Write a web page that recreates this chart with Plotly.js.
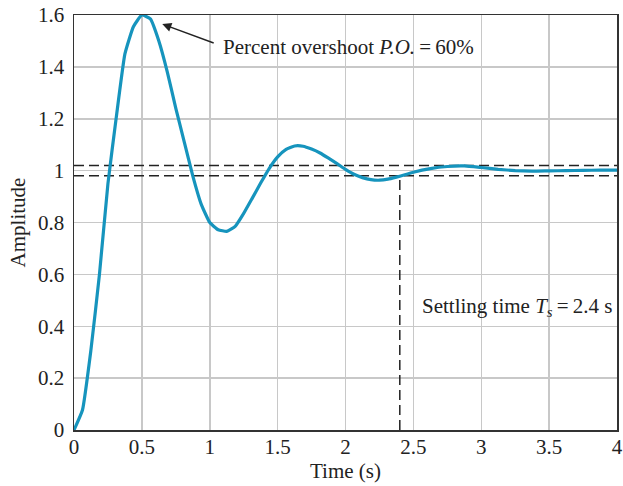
<!DOCTYPE html>
<html>
<head>
<meta charset="utf-8">
<script src="https://cdn.plot.ly/plotly-3.0.1.min.js"></script>
<style>html,body{margin:0;padding:0;background:#fff;}#chart{width:623px;height:486px;}</style>
</head>
<body>
<div id="chart"></div>
<script>
// Step response samples
var timeS = [0, 0.0625, 0.125, 0.1875, 0.25, 0.3125, 0.375, 0.4375, 0.5, 0.5625, 0.625, 0.6875, 0.75, 0.8125, 0.875, 0.9375, 1.0, 1.0625, 1.125, 1.1875, 1.25, 1.3125, 1.375, 1.4375, 1.5, 1.5625, 1.625, 1.6875, 1.75, 1.8125, 1.875, 1.9375, 2.0, 2.0625, 2.125, 2.1875, 2.25, 2.3125, 2.375, 2.4375, 2.5, 2.625, 2.75, 2.875, 3.0, 3.125, 3.25, 3.375, 3.5, 3.625, 3.75, 3.875, 4.0];
var amplitude = [0, 0.077, 0.31, 0.60, 0.95, 1.21, 1.45, 1.555, 1.60, 1.585, 1.50, 1.38, 1.24, 1.11, 0.98, 0.87, 0.80, 0.772, 0.766, 0.785, 0.835, 0.893, 0.952, 1.008, 1.053, 1.082, 1.095, 1.094, 1.083, 1.068, 1.048, 1.027, 1.005, 0.986, 0.973, 0.965, 0.963, 0.967, 0.975, 0.984, 0.994, 1.008, 1.016, 1.018, 1.012, 1.005, 1.0, 0.998, 0.999, 1.0, 1.001, 1.002, 1.002];
var bandLevels = [1.02, 0.98];
var settlingTime = [2.4];
var xRange = [0, 4];
var yRange = [0, 1.6];
var xTicks = [0, 0.5, 1, 1.5, 2, 2.5, 3, 3.5, 4];
var xTickText = ["0", "0.5", "1", "1.5", "2", "2.5", "3", "3.5", "4"];
var yTicks = [0, 0.2, 0.4, 0.6, 0.8, 1, 1.2, 1.4, 1.6];
var yTickText = ["0", "0.2", "0.4", "0.6", "0.8", "1", "1.2", "1.4", "1.6"];
var arrowHead = [0.65, 1.565];
var arrowTail = [1.04, 1.49];
var poText = "Percent overshoot <i>P.O.</i>\u2009=\u200960%";
var tsText = "Settling time <i>T</i><sub><i>s</i></sub>\u2009=\u20092.4 s";

var serif = "Liberation Serif, Times New Roman, serif";
var traces = [];
bandLevels.forEach(function (lv) {
  traces.push({x: xRange, y: [lv, lv], mode: "lines", line: {color: "#222", width: 1.5, dash: "10px,5px"}, hoverinfo: "skip", showlegend: false});
});
traces.push({x: [settlingTime[0], settlingTime[0]], y: [0, bandLevels[1]], mode: "lines", line: {color: "#222", width: 1.5, dash: "10px,5px"}, hoverinfo: "skip", showlegend: false});
traces.push({x: timeS, y: amplitude, mode: "lines", line: {color: "#1694bd", width: 3.2, shape: "spline", smoothing: 0.4}, showlegend: false});

var layout = {
  width: 623, height: 486,
  margin: {l: 74, r: 6, t: 15, b: 56},
  paper_bgcolor: "#fff", plot_bgcolor: "#fff",
  font: {family: serif, size: 21, color: "#222"},
  xaxis: {range: xRange, tickvals: xTicks, ticktext: xTickText, showgrid: true, gridcolor: "#c8c8c8", gridwidth: 1.5,
    zeroline: false, showline: true, linecolor: "#333", linewidth: 1.5, mirror: true, ticks: "", ticklabelstandoff: -3,
    tickfont: {family: serif, size: 21, color: "#222"},
    title: {text: "Time (s)", font: {family: serif, size: 21, color: "#222"}, standoff: 2}},
  yaxis: {range: yRange, tickvals: yTicks, ticktext: yTickText, showgrid: true, gridcolor: "#c8c8c8", gridwidth: 1.5,
    zeroline: false, showline: true, linecolor: "#333", linewidth: 1.5, mirror: true, ticks: "", ticklabelstandoff: 4,
    tickfont: {family: serif, size: 21, color: "#222"},
    title: {text: "Amplitude", font: {family: serif, size: 21, color: "#222"}, standoff: 6}},
  annotations: [
    {x: arrowHead[0], y: arrowHead[1], xref: "x", yref: "y", ax: arrowTail[0], ay: arrowTail[1], axref: "x", ayref: "y",
     showarrow: true, arrowhead: 2, arrowsize: 1.3, arrowwidth: 1.4, arrowcolor: "#222", text: ""},
    {x: 1.08, y: 1.477, xref: "x", yref: "y", xanchor: "left", yanchor: "middle", showarrow: false, text: poText,
     font: {family: serif, size: 21, color: "#222"}},
    {x: 2.55, y: 0.474, xref: "x", yref: "y", xanchor: "left", yanchor: "middle", showarrow: false, text: tsText,
     font: {family: serif, size: 21, color: "#222"}}
  ]
};
Plotly.newPlot("chart", traces, layout, {staticPlot: true});
</script>
</body>
</html>
